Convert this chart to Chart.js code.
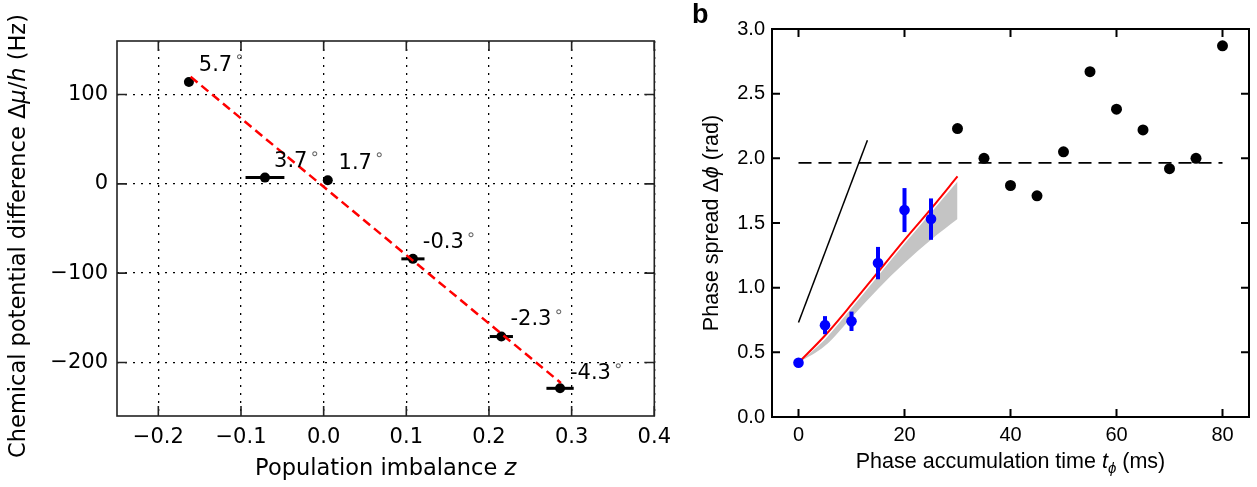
<!DOCTYPE html>
<html>
<head>
<meta charset="utf-8">
<script src="https://cdn.jsdelivr.net/npm/chart.js@4.4.0/dist/chart.umd.min.js"></script>
<style>
  body { margin: 0; background: #fff; }
  #wrapA { position: absolute; left: 0; top: 0; width: 680px; height: 487px; }
  #wrapB { position: absolute; left: 680px; top: 0; width: 577px; height: 487px; }
</style>
</head>
<body>
<div id="wrapA"><canvas id="imbalanceChart"></canvas></div>
<div id="wrapB"><canvas id="phaseChart"></canvas></div>
<script>
// ---- panel a: chemical potential vs population imbalance ----
const zValues = [-0.163, -0.071, 0.005, 0.108, 0.215, 0.286];
const zErrors = [0, 0.0235, 0, 0.014, 0.014, 0.0165];
const muValues = [114, 7, 4, -84, -171, -229];
const zFit = [-0.161, 0.287];
const muFit = [120, -223];
const angleLabels = ["5.7", "3.7", "1.7", "-0.3", "-2.3", "-4.3"];
const angleLabelZ = [-0.151, -0.060, 0.018, 0.120, 0.226, 0.298];
const angleLabelMu = [133, 25, 23, -66, -152, -213];
const leftTicksX = [-0.2, -0.1, 0.0, 0.1, 0.2, 0.3, 0.4];
const leftTicksY = [-200, -100, 0, 100];

// ---- panel b: phase spread vs accumulation time ----
const tBlue = [0, 5, 10, 15, 20, 25];
const phiBlue = [0.42, 0.71, 0.74, 1.19, 1.60, 1.53];
const phiBlueErr = [0.03, 0.07, 0.075, 0.125, 0.17, 0.16];
const tBlack = [30, 35, 40, 45, 50, 55, 60, 65, 70, 75, 80];
const phiBlack = [2.23, 2.00, 1.79, 1.71, 2.05, 2.67, 2.38, 2.22, 1.92, 2.00, 2.87];
const tFit = [0, 5, 10, 15, 20, 25, 30];
const phiFit = [0.42, 0.63, 0.87, 1.12, 1.37, 1.61, 1.86];
const phiBandUpper = [0.42, 0.60, 0.84, 1.09, 1.34, 1.58, 1.82];
const phiBandLower = [0.42, 0.55, 0.77, 0.99, 1.19, 1.37, 1.53];
const tSlope = [0, 13];
const phiSlope = [0.73, 2.14];
const tLimit = [0, 80];
const phiLimit = [1.965, 1.965];
const rightTicksX = [0, 20, 40, 60, 80];
const rightTicksY = [0, 0.5, 1.0, 1.5, 2.0, 2.5, 3.0];

const pts = (xs, ys) => xs.map((x, i) => ({ x: x, y: ys[i] }));

// draw a line of text made of several runs (italic / subscript parts)
function drawRuns(ctx, runs, x, y, rotate) {
  ctx.save();
  ctx.translate(x, y);
  if (rotate) ctx.rotate(-Math.PI / 2);
  let total = 0;
  runs.forEach((r) => { ctx.font = r.font; total += ctx.measureText(r.text).width; });
  let cx = -total / 2;
  ctx.textBaseline = "middle";
  ctx.textAlign = "left";
  ctx.fillStyle = "#000";
  runs.forEach((r) => {
    ctx.font = r.font;
    ctx.fillText(r.text, cx, r.dy || 0);
    cx += ctx.measureText(r.text).width;
  });
  ctx.restore();
}

function frameTicks(color, lw, len) {
  return {
    id: "frameTicks",
    afterDraw(chart) {
      const { ctx, chartArea: a, scales: { x, y } } = chart;
      ctx.save();
      ctx.strokeStyle = color;
      ctx.lineWidth = lw;
      ctx.beginPath();
      x.ticks.forEach((t) => {
        const px = x.getPixelForValue(t.value);
        ctx.moveTo(px, a.bottom); ctx.lineTo(px, a.bottom - len);
        ctx.moveTo(px, a.top); ctx.lineTo(px, a.top + len);
      });
      y.ticks.forEach((t) => {
        const py = y.getPixelForValue(t.value);
        ctx.moveTo(a.left, py); ctx.lineTo(a.left + len, py);
        ctx.moveTo(a.right, py); ctx.lineTo(a.right - len, py);
      });
      ctx.stroke();
      ctx.strokeRect(a.left, a.top, a.right - a.left, a.bottom - a.top);
      ctx.restore();
    },
  };
}

const DJ = '"DejaVu Sans"';
const LS = '"Liberation Sans", Arial';

// ---------------- panel a ----------------
const ctxA = document.getElementById("imbalanceChart");

const panelAExtras = {
  id: "panelAExtras",
  beforeDatasetsDraw(chart) {
    const { ctx, scales: { x, y } } = chart;
    ctx.save();
    ctx.strokeStyle = "#000";
    ctx.lineWidth = 3;
    zValues.forEach((z, i) => {
      if (!zErrors[i]) return;
      const py = y.getPixelForValue(muValues[i]);
      ctx.beginPath();
      ctx.moveTo(x.getPixelForValue(z - zErrors[i]), py);
      ctx.lineTo(x.getPixelForValue(z + zErrors[i]), py);
      ctx.stroke();
    });
    ctx.restore();
  },
  afterDatasetsDraw(chart) {
    const { ctx, scales: { x, y } } = chart;
    ctx.save();
    ctx.textBaseline = "middle";
    angleLabels.forEach((lab, i) => {
      const px = x.getPixelForValue(angleLabelZ[i]);
      const py = y.getPixelForValue(angleLabelMu[i]);
      ctx.font = "21px " + DJ;
      ctx.fillStyle = "#000";
      ctx.fillText(lab, px, py);
      const w = ctx.measureText(lab).width;
      ctx.font = "16px " + DJ;
      ctx.fillStyle = "#666";
      ctx.fillText("\u2218", px + w + 2, py - 7);
    });
    ctx.restore();
  },
  afterDraw(chart) {
    const { ctx, chartArea: a } = chart;
    const f = "22.5px " + DJ;
    const fi = "italic 22.5px " + DJ;
    drawRuns(ctx, [
      { text: "Chemical potential difference ", font: f },
      { text: "\u0394", font: f },
      { text: "\u03bc", font: fi },
      { text: "/", font: f },
      { text: "h", font: fi },
      { text: " (Hz)", font: f },
    ], 19, 236, true);
    drawRuns(ctx, [
      { text: "Population imbalance ", font: f },
      { text: "z", font: fi },
    ], (a.left + a.right) / 2, 469, false);
  },
};

new Chart(ctxA, {
  type: "scatter",
  data: {
    datasets: [
      {
        label: "fit",
        type: "line",
        data: pts(zFit, muFit),
        borderColor: "#ff0000",
        borderWidth: 2.5,
        borderDash: [9, 5],
        pointRadius: 0,
        fill: false,
        order: 1,
      },
      {
        label: "measured",
        data: pts(zValues, muValues),
        backgroundColor: "#000",
        borderWidth: 0,
        pointRadius: 5,
        order: 2,
      },
    ],
  },
  options: {
    responsive: true,
    maintainAspectRatio: false,
    animation: false,
    layout: { padding: { left: 0, top: 41, right: 20, bottom: 0 } },
    plugins: { legend: { display: false }, tooltip: { enabled: false } },
    scales: {
      x: {
        type: "linear",
        min: -0.25,
        max: 0.4,
        afterBuildTicks: (s) => { s.ticks = leftTicksX.map((v) => ({ value: v })); },
        afterFit: (s) => { s.height = 71; },
        grid: { color: "#000", lineWidth: 1.3, drawTicks: false },
        border: { display: false, dash: [2, 6] },
        ticks: {
          padding: 9,
          color: "#000",
          font: { family: "DejaVu Sans", size: 21 },
          callback: (v) => v.toFixed(1).replace("-", "\u2212"),
        },
      },
      y: {
        type: "linear",
        min: -260,
        max: 160,
        afterBuildTicks: (s) => { s.ticks = leftTicksY.map((v) => ({ value: v })); },
        afterFit: (s) => { s.width = 117; },
        grid: { color: "#000", lineWidth: 1.3, drawTicks: false },
        border: { display: false, dash: [2, 6] },
        ticks: {
          padding: 9,
          color: "#000",
          font: { family: "DejaVu Sans", size: 21 },
          callback: (v) => String(v).replace("-", "\u2212"),
        },
      },
    },
  },
  plugins: [panelAExtras, frameTicks("#222", 1.6, 10)],
});

// ---------------- panel b ----------------
const ctxB = document.getElementById("phaseChart");

const panelBExtras = {
  id: "panelBExtras",
  afterDatasetDraw(chart, args) {
    if (chart.data.datasets[args.index].label !== "blue") return;
    const { ctx, scales: { x, y } } = chart;
    ctx.save();
    ctx.strokeStyle = "#0000ff";
    ctx.lineWidth = 4;
    tBlue.forEach((t, i) => {
      const px = x.getPixelForValue(t);
      ctx.beginPath();
      ctx.moveTo(px, y.getPixelForValue(phiBlue[i] - phiBlueErr[i]));
      ctx.lineTo(px, y.getPixelForValue(phiBlue[i] + phiBlueErr[i]));
      ctx.stroke();
    });
    ctx.restore();
  },
  afterDraw(chart) {
    const { ctx, chartArea: a } = chart;
    const f = "21.5px " + LS;
    const fi = "italic 21.5px " + LS;
    drawRuns(ctx, [
      { text: "Phase spread ", font: f },
      { text: "\u0394", font: f },
      { text: "\u03d5", font: fi },
      { text: " (rad)", font: f },
    ], 32, (a.top + a.bottom) / 2, true);
    drawRuns(ctx, [
      { text: "Phase accumulation time ", font: f },
      { text: "t", font: fi },
      { text: "\u03d5", font: "italic 15px " + LS, dy: 7 },
      { text: " (ms)", font: f },
    ], (a.left + a.right) / 2, 462, false);
    ctx.save();
    ctx.font = "bold 27px " + LS;
    ctx.fillStyle = "#000";
    ctx.textBaseline = "top";
    ctx.fillText("b", 12, 2);
    ctx.restore();
  },
};

new Chart(ctxB, {
  type: "scatter",
  data: {
    datasets: [
      {
        label: "band",
        type: "line",
        data: pts(tFit, phiBandUpper),
        borderWidth: 0,
        pointRadius: 0,
        cubicInterpolationMode: "monotone",
        backgroundColor: "#c4c4c4",
        fill: "+1",
        order: 7,
      },
      {
        label: "bandLower",
        type: "line",
        data: pts(tFit, phiBandLower),
        borderWidth: 0,
        pointRadius: 0,
        cubicInterpolationMode: "monotone",
        fill: false,
        order: 8,
      },
      {
        label: "slope",
        type: "line",
        data: pts(tSlope, phiSlope),
        borderColor: "#000",
        borderWidth: 1.5,
        pointRadius: 0,
        fill: false,
        order: 6,
      },
      {
        label: "limit",
        type: "line",
        data: pts(tLimit, phiLimit),
        borderColor: "#000",
        borderWidth: 1.6,
        borderDash: [13, 7],
        pointRadius: 0,
        fill: false,
        order: 5,
      },
      {
        label: "fit",
        type: "line",
        data: pts(tFit, phiFit),
        borderColor: "#ff0000",
        borderWidth: 2,
        pointRadius: 0,
        cubicInterpolationMode: "monotone",
        fill: false,
        order: 4,
      },
      {
        label: "blue",
        data: pts(tBlue, phiBlue),
        backgroundColor: "#0000ff",
        borderWidth: 0,
        pointRadius: 5.3,
        order: 3,
      },
      {
        label: "black",
        data: pts(tBlack, phiBlack),
        backgroundColor: "#000",
        borderWidth: 0,
        pointRadius: 5.5,
        order: 2,
      },
    ],
  },
  options: {
    responsive: true,
    maintainAspectRatio: false,
    animation: false,
    layout: { padding: { left: 0, top: 29, right: 8, bottom: 0 } },
    plugins: { legend: { display: false }, tooltip: { enabled: false } },
    scales: {
      x: {
        type: "linear",
        min: -5,
        max: 85,
        afterBuildTicks: (s) => { s.ticks = rightTicksX.map((v) => ({ value: v })); },
        afterFit: (s) => { s.height = 70; },
        grid: { display: false, drawTicks: false },
        border: { display: false },
        ticks: {
          padding: 6,
          color: "#000",
          font: { family: "Liberation Sans", size: 20 },
          callback: (v) => String(v),
        },
      },
      y: {
        type: "linear",
        min: 0,
        max: 3,
        afterBuildTicks: (s) => { s.ticks = rightTicksY.map((v) => ({ value: v })); },
        afterFit: (s) => { s.width = 92; },
        grid: { display: false, drawTicks: false },
        border: { display: false },
        ticks: {
          padding: 7,
          color: "#000",
          font: { family: "Liberation Sans", size: 20 },
          callback: (v) => v.toFixed(1),
        },
      },
    },
  },
  plugins: [panelBExtras, frameTicks("#000", 2, 8)],
});
</script>
</body>
</html>
